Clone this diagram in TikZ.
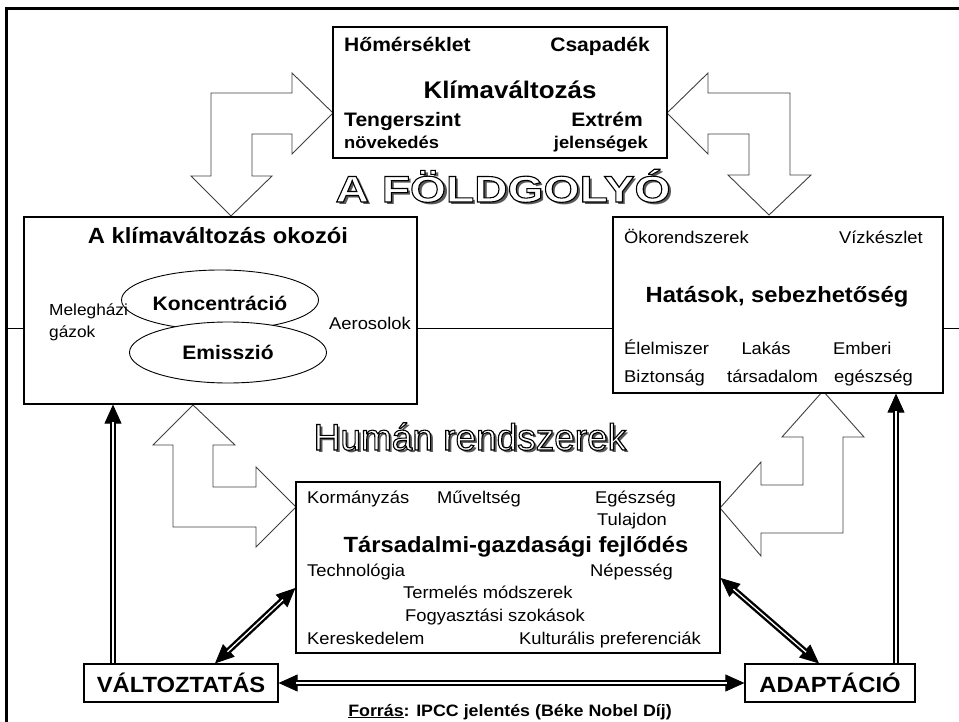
\documentclass[tikz,border=0pt]{standalone}
\usepackage{fontspec}
\setmainfont{Liberation Sans}[FakeStretch=1.08]
\newfontfamily\wideart{Liberation Sans}[FakeStretch=1.25]
\newfontfamily\humart{Liberation Sans}
\usetikzlibrary{arrows.meta,shapes.geometric}
\newcommand\fsz[1]{\fontsize{#1pt}{#1pt}\selectfont}
\newcommand\outltext[1]{\special{pdf:literal direct q 0 0 0 RG 1 1 1 rg 1.1 w 2 Tr}#1\special{pdf:literal direct Q}}
\tikzset{
  box/.style={draw, line width=1.2pt, fill=white, inner sep=0pt},
  lbl/.style={inner sep=0pt, font=\fsz{17}},
  blbl/.style={inner sep=0pt, font=\bfseries\fsz{19.5}},
  tlbl/.style={inner sep=0pt, font=\bfseries\fsz{22}},
  hollow/.style={draw=black!75, line width=0.9pt, fill=white, line join=miter},
  arrbase/.style={line width=0.8pt, black},
  dblshaft/.style={double=white, double distance=1.3pt, line width=2.4pt, draw=black},
  >={Triangle[length=19pt,width=17pt]},
}
\begin{document}
\begin{tikzpicture}[x=1pt,y=-1pt]
\useasboundingbox (0,0) rectangle (959,722);
% frame and horizon line
\coordinate (fbl) at (6.5,722);
\coordinate (ftl) at (6.5,8.5);
\coordinate (ftr) at (959,8.5);
\draw[line width=3pt] (fbl) -- (ftl) -- (ftr);
\coordinate (hl) at (6.5,328);
\coordinate (hr) at (959,328);
\draw[line width=1pt] (hl) -- (hr);

% hollow block arrows
\draw[hollow] (231,216) -- (191,176) -- (211,176) -- (211,93) -- (292,93) -- (292,73) -- (333,113) -- (292,154) -- (292,134) -- (252,134) -- (252,176) -- (272,176) -- cycle;
\draw[hollow] (667,113) -- (708,73) -- (708,93) -- (790,93) -- (790,175) -- (811,175) -- (769,215) -- (728,175) -- (749,175) -- (749,134) -- (708,134) -- (708,154) -- cycle;
\draw[hollow] (193,405) -- (235,445) -- (213,445) -- (213,487) -- (256,487) -- (256,467) -- (296,507) -- (256,547) -- (256,527) -- (173,527) -- (173,445) -- (153,445) -- cycle;
\draw[hollow] (823,391) -- (864,437) -- (843,437) -- (843,533) -- (761,533) -- (761,556) -- (720,508) -- (761,462) -- (761,485) -- (803,485) -- (803,437) -- (782,437) -- cycle;

% boxes
\node[box, minimum width=334pt, minimum height=131pt] (klima) at (500,92.5) {};
\node[box, minimum width=393pt, minimum height=187pt] (cause) at (220.5,310.5) {};
\node[box, minimum width=330pt, minimum height=176pt] (impact) at (778,305) {};
\node[box, minimum width=424pt, minimum height=171pt] (socio) at (508,567.5) {};
\node[box, minimum width=194pt, minimum height=38pt, font=\bfseries\fsz{22}] (vb) at (181,683) {VÁLTOZTATÁS};
\node[box, minimum width=170pt, minimum height=38pt, font=\bfseries\fsz{22}] (ad) at (830,683) {ADAPTÁCIÓ};

% top box texts
\node[blbl, anchor=base west] (t1) at (344,52) {Hőmérséklet};
\node[blbl, anchor=base east] (t2) at (650,52) {Csapadék};
\node[inner sep=0pt, font=\bfseries\fsz{24}, anchor=base] (t3) at (510,99) {Klímaváltozás};
\node[blbl, anchor=base west] (t4) at (344,127) {Tengerszint};
\node[blbl, anchor=base east] (t5) at (643,127) {Extrém};
\node[inner sep=0pt, font=\bfseries\fsz{17}, anchor=base west] (t6) at (344,149) {növekedés};
\node[inner sep=0pt, font=\bfseries\fsz{17}, anchor=base east] (t7) at (648,149) {jelenségek};

% outlined titles (shadow, then white letters with black outline)
\node[inner sep=0pt, anchor=base, font=\wideart\bfseries\fsz{37}, text=black!65] (fshadow) at (506,205) {A FÖLDGOLYÓ};
\node[inner sep=0pt, anchor=base, font=\wideart\bfseries\fsz{37}, text=white] (fold) at (503,202) {\outltext{A FÖLDGOLYÓ}};
\node[inner sep=0pt, anchor=base, font=\humart\fsz{37}, text=black!65] (hshadow) at (472.5,452.5) {Humán rendszerek};
\node[inner sep=0pt, anchor=base, font=\humart\fsz{37}, text=white] (hum) at (470,450) {\outltext{Humán rendszerek}};

% left box contents
\node[tlbl, anchor=base] (c0) at (218,244) {A klímaváltozás okozói};
\node[ellipse, draw, line width=0.9pt, fill=white, minimum width=197pt, minimum height=60pt, inner sep=0pt] (konc) at (220,300) {};
\node[ellipse, draw, line width=0.9pt, fill=white, minimum width=197pt, minimum height=61pt, inner sep=0pt] (emis) at (228,352.5) {};
\node[blbl, anchor=base] (c1) at (220,311) {Koncentráció};
\node[blbl, anchor=base] (c2) at (228,359) {Emisszió};
\node[inner sep=0pt, font=\fsz{16}, anchor=base west] (c3) at (49,316) {Melegházi};
\node[inner sep=0pt, font=\fsz{16}, anchor=base west] (c4) at (49,337) {gázok};
\node[lbl, anchor=base west] (c5) at (329,329) {Aerosolok};

% right box contents
\node[lbl, anchor=base west] (r1) at (624,244) {Ökorendszerek};
\node[lbl, anchor=base east] (r2) at (923,244) {Vízkészlet};
\node[tlbl, anchor=base] (r3) at (777,302) {Hatások, sebezhetőség};
\node[lbl, anchor=base west] (r4) at (624,354) {Élelmiszer};
\node[lbl, anchor=base] (r5) at (766,354) {Lakás};
\node[lbl, anchor=base west] (r6) at (833,354) {Emberi};
\node[lbl, anchor=base west] (r7) at (624,382) {Biztonság};
\node[lbl, anchor=base west] (r8) at (727,382) {társadalom};
\node[lbl, anchor=base west] (r9) at (834,382) {egészség};

% middle box contents
\node[lbl, anchor=base west] (s1) at (307,503) {Kormányzás};
\node[lbl, anchor=base west] (s2) at (437,503) {Műveltség};
\node[lbl, anchor=base west] (s3) at (595,503) {Egészség};
\node[lbl, anchor=base west] (s4) at (597,525) {Tulajdon};
\node[tlbl, anchor=base] (s5) at (516,552) {Társadalmi-gazdasági fejlődés};
\node[lbl, anchor=base west] (s6) at (307,576) {Technológia};
\node[lbl, anchor=base west] (s7) at (590,576) {Népesség};
\node[lbl, anchor=base west] (s8) at (403,598) {Termelés módszerek};
\node[lbl, anchor=base west] (s9) at (405,621) {Fogyasztási szokások};
\node[lbl, anchor=base west] (s10) at (307,644) {Kereskedelem};
\node[lbl, anchor=base west] (s11) at (519,644) {Kulturális preferenciák};

% footer
\node[inner sep=0pt, anchor=base, font=\bfseries\fsz{16.5}] (src) at (510,716) {\underline{Forrás}: IPCC jelentés (Béke Nobel Díj)};

% double-line arrows
\coordinate (lvx) at (113,0);
\coordinate (rvx) at (896,0);
\coordinate (ldx) at (215,0);
\coordinate (ldy) at (0,588);
\coordinate (rdx) at (819,0);
\coordinate (rdy) at (0,578);

\draw[arrbase, <->] (vb.east) -- (ad.west);
\draw[dblshaft, shorten <=17pt, shorten >=17pt] (vb.east) -- (ad.west);

\draw[arrbase, ->] (vb.north -| lvx) -- (cause.south -| lvx);
\draw[dblshaft, shorten >=17pt] (vb.north -| lvx) -- (cause.south -| lvx);

\draw[arrbase, ->] (ad.north -| rvx) -- (impact.south -| rvx);
\draw[dblshaft, shorten >=17pt] (ad.north -| rvx) -- (impact.south -| rvx);

\draw[arrbase, <->] (vb.north -| ldx) -- (socio.west |- ldy);
\draw[dblshaft, shorten <=17pt, shorten >=17pt] (vb.north -| ldx) -- (socio.west |- ldy);

\draw[arrbase, <->] (socio.east |- rdy) -- (ad.north -| rdx);
\draw[dblshaft, shorten <=17pt, shorten >=17pt] (socio.east |- rdy) -- (ad.north -| rdx);
\end{tikzpicture}
\end{document}
